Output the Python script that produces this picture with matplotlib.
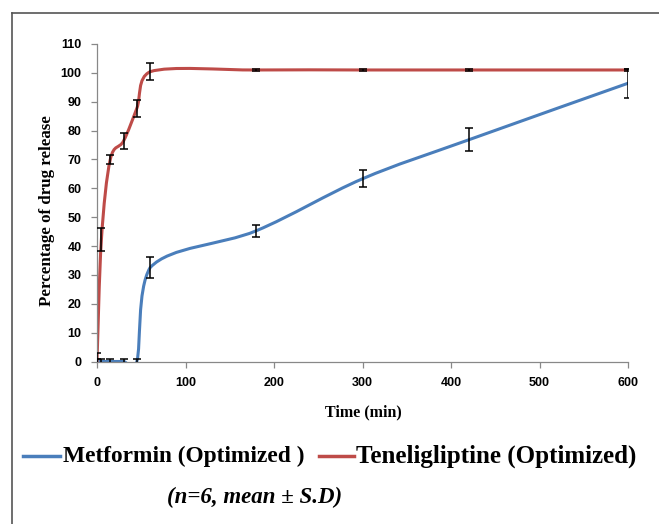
import numpy as np
import matplotlib
matplotlib.use("Agg")
import matplotlib.pyplot as plt
from matplotlib.path import Path
from matplotlib.patches import PathPatch
from matplotlib.lines import Line2D

# data
time = [0, 5, 15, 30, 45, 60, 180, 300, 420, 600]
metformin = [0, 0, 0, 0, 0, 32.5, 45.3, 63.3, 76.8, 96.4]
metformin_sd = [0.7, 0.7, 0.7, 0.7, 0.7, 3.7, 2.0, 2.9, 4.0, 5.0]
tene = [0, 42.4, 70.0, 76.4, 87.7, 100.4, 101, 101, 101, 101]
tene_sd = [3.0, 4.0, 1.7, 2.9, 2.9, 2.9, 0.5, 0.5, 0.5, 0.5]
labels = ["Metformin (Optimized )", "Teneligliptine (Optimized)"]

blue = "#4a7ebb"
red = "#be4b48"
W, H = 659, 524


def smooth_path(x, y):
    # excel-like smoothed line: cubic bezier through the points
    p = np.column_stack([x, y]).astype(float)
    n = len(p)
    verts = [p[0]]
    codes = [Path.MOVETO]
    for i in range(n - 1):
        a = p[i - 1] if i > 0 else p[i]
        d = p[i + 2] if i + 2 < n else p[i + 1]
        c1 = p[i] + (p[i + 1] - a) / 6
        c2 = p[i + 1] - (d - p[i]) / 6
        c1[0] = np.clip(c1[0], p[i][0], p[i + 1][0])
        c2[0] = np.clip(c2[0], p[i][0], p[i + 1][0])
        verts += [c1, c2, p[i + 1]]
        codes += [Path.CURVE4] * 3
    return Path(verts, codes)


fig = plt.figure(figsize=(6.59, 5.24), dpi=100)
ax = fig.add_axes([97 / W, 1 - 361.5 / H, 531 / W, 317.5 / H])

for yv, col in [(metformin, blue), (tene, red)]:
    ax.add_patch(PathPatch(smooth_path(time, yv), facecolor="none",
                           edgecolor=col, lw=2.2, capstyle="round", zorder=2))

ax.errorbar(time, metformin, yerr=metformin_sd, fmt="none", ecolor="black",
            elinewidth=1.1, capsize=3, capthick=1.1, zorder=3)
ax.errorbar(time, tene, yerr=tene_sd, fmt="none", ecolor="black",
            elinewidth=1.1, capsize=3, capthick=1.1, zorder=3)

ax.set_xlim(0, 600)
ax.set_ylim(0, 110)
ax.set_xticks(range(0, 601, 100))
ax.set_yticks(range(0, 111, 10))
for s in ["top", "right"]:
    ax.spines[s].set_visible(False)
for s in ["left", "bottom"]:
    ax.spines[s].set_color("#888888")
    ax.spines[s].set_linewidth(0.9)
ax.tick_params(direction="out", length=4, width=0.9, color="#888888",
               labelsize=9)
ax.tick_params(axis="x", pad=7)
ax.tick_params(axis="y", pad=7)
for lab in ax.get_xticklabels() + ax.get_yticklabels():
    lab.set_fontfamily("Liberation Sans")
    lab.set_fontweight("bold")

fig.text(363 / W, 1 - 412 / H, "Time (min)", ha="center", va="center",
         fontfamily="Liberation Serif", fontweight="bold", fontsize=11.5)
fig.text(47 / W, 1 - 211 / H, "Percentage of drug release", rotation=90,
         ha="center", va="center", fontfamily="Liberation Serif",
         fontweight="bold", fontsize=12.2)

# legend below the plot, laid out by hand
ly = 1 - 456 / H
fig.add_artist(Line2D([23 / W, 60 / W], [ly, ly], color=blue, lw=2.5))
fig.add_artist(Line2D([319 / W, 354 / W], [ly, ly], color=red, lw=2.5))
fig.text(63 / W, ly, labels[0], ha="left", va="center",
         fontfamily="Liberation Serif", fontweight="bold", fontsize=16.8)
fig.text(356 / W, ly, labels[1], ha="left", va="center",
         fontfamily="Liberation Serif", fontweight="bold", fontsize=18)
fig.text(255 / W, 1 - 497 / H, "(n=6, mean \u00b1 S.D)", ha="center",
         va="center", fontfamily="Liberation Serif", fontweight="bold",
         fontstyle="italic", fontsize=16.5)

# frame border of the original image
ty = 1 - 13 / H
lx = 12 / W
fig.add_artist(Line2D([lx, 1], [ty, ty], color="#555555", lw=1.2))
fig.add_artist(Line2D([lx, lx], [0, ty], color="#555555", lw=1.2))

fig.savefig("out.png", dpi=100)
